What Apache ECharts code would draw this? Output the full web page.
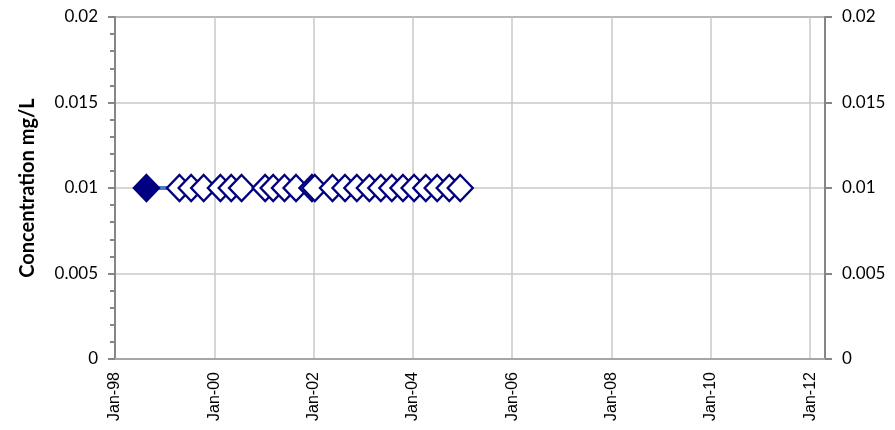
<!DOCTYPE html>
<html>
<head>
<meta charset="utf-8">
<script src="https://cdn.jsdelivr.net/npm/echarts@6/dist/echarts.min.js"></script>
<style>html,body{margin:0;padding:0;background:#fff;}#c{width:895px;height:430px;}</style>
</head>
<body>
<div id="c"></div>
<script>
// Sample dates and concentrations (mg/L)
const sampleDates = [
  "1998-08-20",
  "1999-04-20","1999-07-15","1999-10-15","2000-02-15","2000-05-05","2000-07-20",
  "2001-01-10","2001-03-10","2001-06-01","2001-08-25","2001-12-20","2002-01-10",
  "2002-05-20","2002-08-20","2002-11-15","2003-02-15","2003-05-10","2003-07-30",
  "2003-10-20","2004-01-10","2004-04-05","2004-06-28","2004-09-25","2004-12-15"
];
const concentrations = [
  0.01,
  0.01,0.01,0.01,0.01,0.01,0.01,
  0.01,0.01,0.01,0.01,0.01,0.01,
  0.01,0.01,0.01,0.01,0.01,0.01,
  0.01,0.01,0.01,0.01,0.01,0.01
];
// first sample detected (filled marker), the rest non-detects (open markers)
const detected = [true].concat(new Array(24).fill(false));
const yTicks = [0, 0.005, 0.01, 0.015, 0.02];
const xTickLabels = ["Jan-98","Jan-00","Jan-02","Jan-04","Jan-06","Jan-08","Jan-10","Jan-12"];

const BASE = 1998;
function toYears(s){
  const d = new Date(s + "T00:00:00Z");
  const y = d.getUTCFullYear();
  const start = Date.UTC(y,0,1), end = Date.UTC(y+1,0,1);
  return (y - BASE) + (d.getTime() - start) / (end - start);
}

const data = sampleDates.map((s,i) => {
  const item = { value: [toYears(s), concentrations[i]] };
  if (detected[i]) item.itemStyle = { color: '#000080', borderColor: '#000080' };
  return item;
});

const chart = echarts.init(document.getElementById('c'), null, {renderer:'canvas'});
const yLabelStyle = { fontFamily: 'Lato', fontSize: 17, color: '#000' };
chart.setOption({
  animation: false,
  backgroundColor: '#fff',
  grid: { left: 115, right: 70, top: 17, bottom: 71, show: true, borderColor: '#868686', borderWidth: 2, backgroundColor: 'transparent' },
  xAxis: {
    type: 'value', min: 0, max: 14.3, interval: 2,
    axisLine: { show: true, lineStyle: { color: '#A6A6A6', width: 2 } },
    axisTick: { show: false },
    splitLine: { show: true, lineStyle: { color: '#C8C8C8', width: 1.5 } },
    axisLabel: {
      rotate: 90, margin: 13, fontFamily: 'Liberation Sans', fontSize: 16, color: '#000',
      formatter: v => { const i = Math.round(v/2); return (Math.abs(v - i*2) < 1e-6 && i < xTickLabels.length) ? xTickLabels[i] : ''; },
      showMaxLabel: false
    }
  },
  yAxis: [
    {
      type: 'value', min: yTicks[0], max: yTicks[yTicks.length-1], interval: 0.005,
      name: 'Concentration mg/L', nameLocation: 'middle', nameGap: 77, nameRotate: 90,
      nameTextStyle: { fontFamily: 'Lato', fontWeight: 'bold', fontSize: 20, color: '#000' },
      axisLine: { show: true, lineStyle: { color: '#868686', width: 2 } },
      axisTick: { show: true, inside: false, length: 7, lineStyle: { color: '#868686', width: 2 } },
      minorTick: { show: true, splitNumber: 5, length: 5, lineStyle: { color: '#868686', width: 2 } },
      splitLine: { show: true, lineStyle: { color: '#C8C8C8', width: 1.5 } },
      axisLabel: Object.assign({ margin: 17, formatter: v => String(+v.toFixed(3)) }, yLabelStyle)
    },
    {
      type: 'value', position: 'right', min: yTicks[0], max: yTicks[yTicks.length-1], interval: 0.005,
      axisLine: { show: true, lineStyle: { color: '#868686', width: 2 } },
      axisTick: { show: true, inside: false, length: 7, lineStyle: { color: '#868686', width: 2 } },
      splitLine: { show: false },
      axisLabel: Object.assign({ margin: 17, formatter: v => String(+v.toFixed(3)) }, yLabelStyle)
    }
  ],
  series: [{
    type: 'line',
    data: data,
    symbol: 'diamond',
    symbolSize: [25, 26],
    showAllSymbol: true,
    lineStyle: { color: '#4A7EBB', width: 4 },
    itemStyle: { color: '#FFFFFF', borderColor: '#000080', borderWidth: 2.4 },
    z: 3
  }]
});
</script>
</body>
</html>
